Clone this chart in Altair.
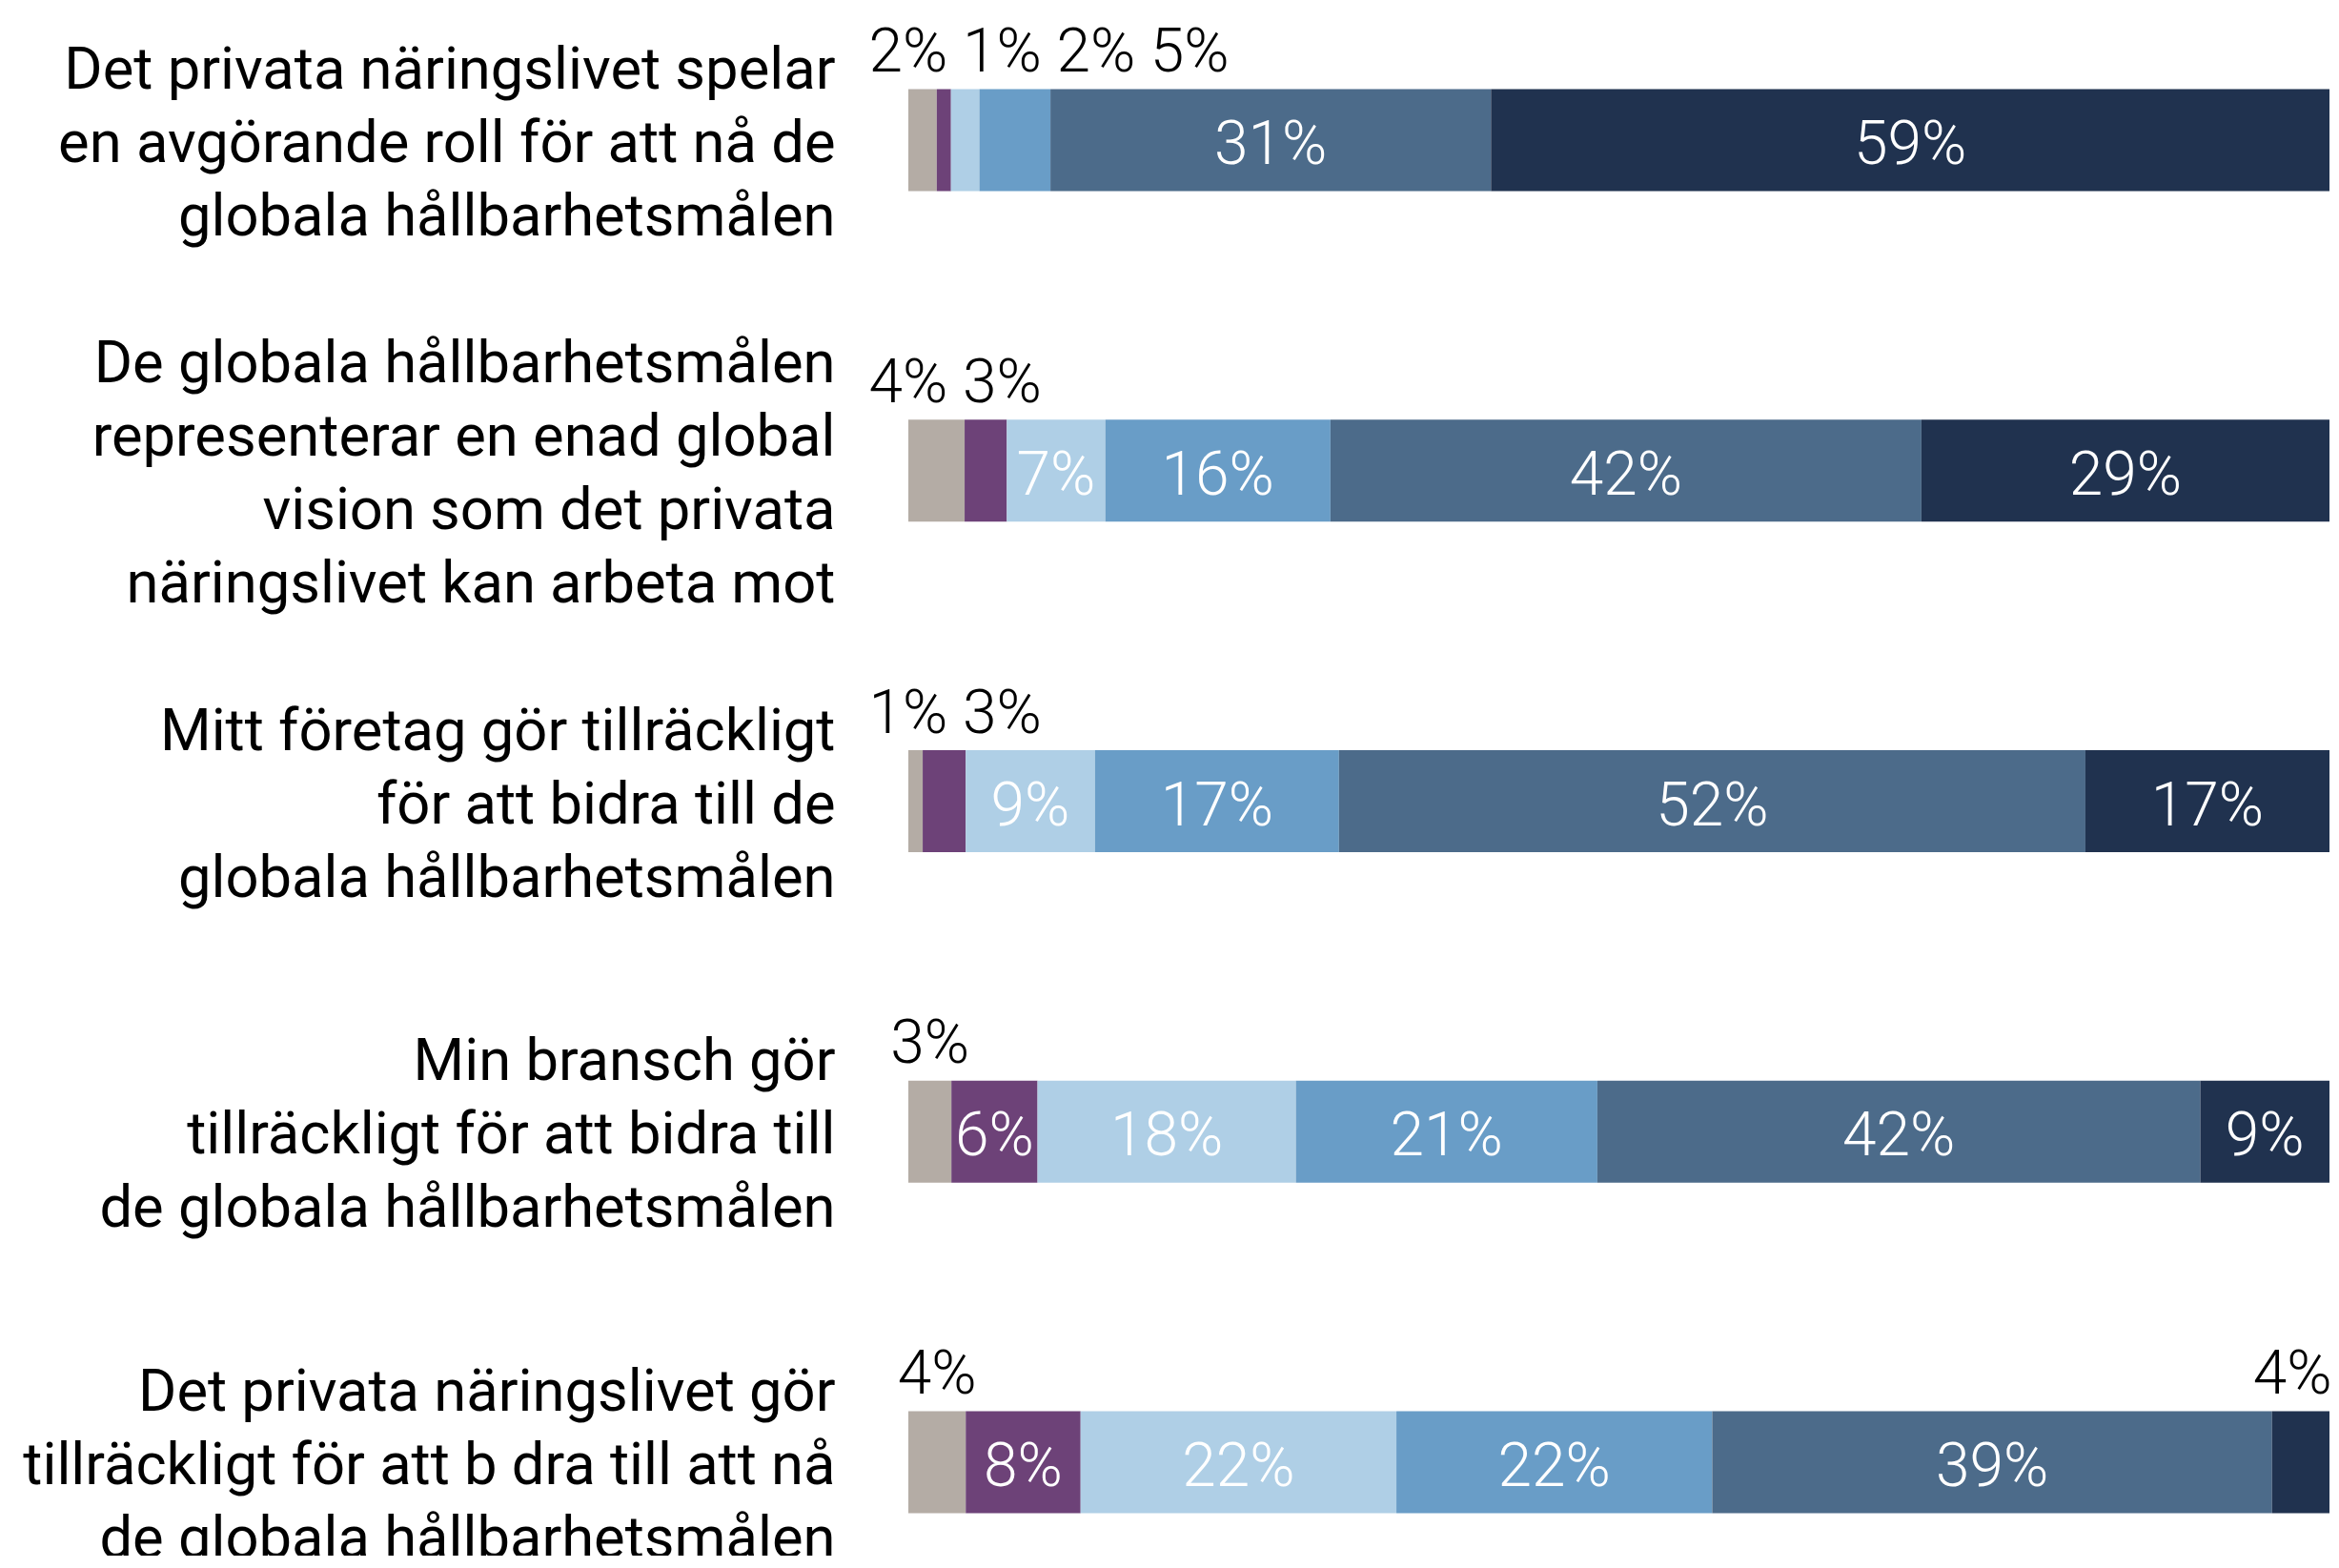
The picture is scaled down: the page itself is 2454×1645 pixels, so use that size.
import altair as alt
import pandas as pd

statements = [
    "Det privata näringslivet spelar|en avgörande roll för att nå de|globala hållbarhetsmålen",
    "De globala hållbarhetsmålen|representerar en enad global|vision som det privata|näringslivet kan arbeta mot",
    "Mitt företag gör tillräckligt|för att bidra till de|globala hållbarhetsmålen",
    "Min bransch gör|tillräckligt för att bidra till|de globala hållbarhetsmålen",
    "Det privata näringslivet gör|tillräckligt för att b dra till att nå|de globala hållbarhetsmålen",
]
responses = [
    "Vet ej",
    "Instämmer inte alls",
    "Instämmer i liten grad",
    "Instämmer delvis",
    "Instämmer i stor grad",
    "Instämmer helt",
]
colors = ["#b4aca5", "#6d4278", "#afcfe6", "#699dc7", "#4c6b8a", "#20324f"]
values = [
    [2, 1, 2, 5, 31, 59],
    [4, 3, 7, 16, 42, 29],
    [1, 3, 9, 17, 52, 17],
    [3, 6, 18, 21, 42, 9],
    [4, 8, 22, 22, 39, 4],
]

SMALL = 5          # values up to this are labelled above the bar
GAP = 0.066        # spacing between neighbouring outside labels (fraction of bar)
HALF = 0.026       # approx half width of a label (fraction of bar)

rows = []
for s, vals in zip(statements, values):
    total = float(sum(vals))
    acc = 0.0
    segs = []
    for r, v in zip(responses, vals):
        start = acc / total
        acc += v
        end = acc / total
        segs.append(dict(statement=s, response=r, value=v, start=start, end=end,
                         mid=(start + end) / 2, label=f"{v}%", inside=v > SMALL))
    i = 0
    n = len(segs)
    while i < n:
        if segs[i]["inside"]:
            i += 1
            continue
        j = i
        while j < n and not segs[j]["inside"]:
            j += 1
        group = segs[i:j]
        if len(group) > 1:
            base = max(0.0, group[0]["start"])
            for k, g in enumerate(group):
                g["label_x"] = base + k * GAP
        else:
            group[0]["label_x"] = min(group[0]["mid"], 1 - HALF)
        i = j
    for g in segs:
        g.setdefault("label_x", g["mid"])
    rows.extend(segs)

df = pd.DataFrame(rows)
df_in = df[df["inside"]].copy()
df_out = df[~df["inside"]].copy()

# ---- layout of the band scale ----
H = 1624            # plot height
STEP = 346.75       # distance between bars
BAND = 107.0        # bar thickness
FIRST = 139.0       # centre of first bar from top of plot
N = len(statements)
p_inner = 1 - BAND / STEP
p_outer = (H / STEP - (N - p_inner)) / 2
left_over = H - STEP * (N - p_inner)
align = (FIRST - BAND / 2) / left_over

num_font = "Roboto"

yscale = alt.Scale(paddingInner=p_inner, paddingOuter=p_outer, align=align)
y_axis = alt.Axis(
    title=None, domain=False, ticks=False, tickSize=0,
    labelExpr="split(datum.label, '|')",
    labelFont="Roboto", labelFontSize=61.5, labelLineHeight=77,
    labelPadding=77, labelLimit=2000, labelColor="#000000",
    labelOffset={
        "condition": {"test": "length(split(datum.label, '|')) >= 4", "value": -111},
        "value": -72,
    },
)
xscale = alt.Scale(domain=[0, 1])

bars = alt.Chart(df).mark_bar().encode(
    x=alt.X("start:Q", scale=xscale, axis=None),
    x2="end:Q",
    y=alt.Y("statement:N", sort=statements, scale=yscale, axis=y_axis),
    color=alt.Color("response:N", scale=alt.Scale(domain=responses, range=colors), legend=None),
)

inside = alt.Chart(df_in).mark_text(
    font=num_font, fontSize=64, fontWeight=300, color="#ffffff",
    baseline="alphabetic", align="center", dy=25
).encode(
    x=alt.X("mid:Q", scale=xscale),
    y=alt.Y("statement:N", sort=statements),
    text="label:N",
)

outside = alt.Chart(df_out).mark_text(
    font=num_font, fontSize=64, fontWeight=300, color="#000000",
    baseline="alphabetic", align="center", dy=-72
).encode(
    x=alt.X("label_x:Q", scale=xscale),
    y=alt.Y("statement:N", sort=statements),
    text="label:N",
)

chart = alt.layer(bars, inside, outside).properties(
    width=1491,
    height=H,
    padding={"left": 945, "top": 0, "right": 2, "bottom": 0},
    autosize=alt.AutoSizeParams(type="none"),
    background="white",
).configure_view(stroke=None)

chart.save("out.html", embed_options={"renderer": "svg", "actions": False})
